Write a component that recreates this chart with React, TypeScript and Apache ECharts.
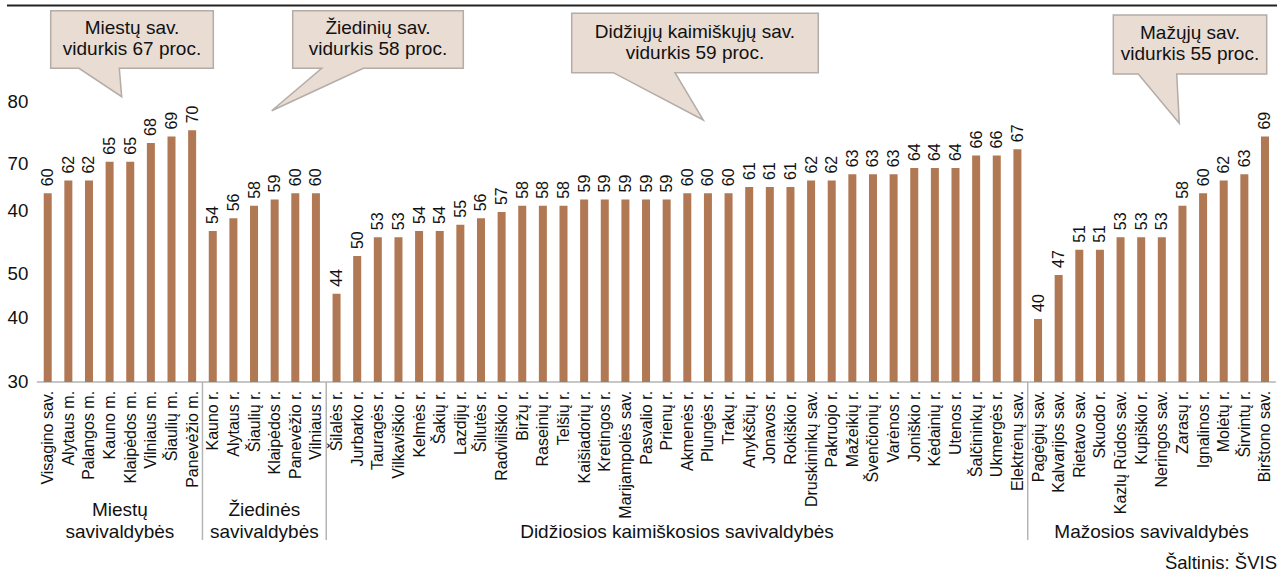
import React, { useEffect, useRef } from 'react';
import * as echarts from 'echarts';

const categories = [
  'Visagino sav.', 'Alytaus m.', 'Palangos m.', 'Kauno m.', 'Klaipėdos m.', 'Vilniaus m.', 'Šiaulių m.', 'Panevėžio m.',
  'Kauno r.', 'Alytaus r.', 'Šiaulių r.', 'Klaipėdos r.', 'Panevėžio r.', 'Vilniaus r.',
  'Šilalės r.', 'Jurbarko r.', 'Tauragės r.', 'Vilkaviškio r.', 'Kelmės r.', 'Šakių r.', 'Lazdijų r.', 'Šilutės r.',
  'Radviliškio r.', 'Biržų r.', 'Raseinių r.', 'Telšių r.', 'Kaišiadorių r.', 'Kretingos r.', 'Marijampolės sav.',
  'Pasvalio r.', 'Prienų r.', 'Akmenės r.', 'Plungės r.', 'Trakų r.', 'Anykščių r.', 'Jonavos r.', 'Rokiškio r.',
  'Druskininkų sav.', 'Pakruojo r.', 'Mažeikių r.', 'Švenčionių r.', 'Varėnos r.', 'Joniškio r.', 'Kėdainių r.',
  'Utenos r.', 'Šalčininkų r.', 'Ukmergės r.', 'Elektrėnų sav.',
  'Pagėgių sav.', 'Kalvarijos sav.', 'Rietavo sav.', 'Skuodo r.', 'Kazlų Rūdos sav.', 'Kupiškio r.', 'Neringos sav.',
  'Zarasų r.', 'Ignalinos r.', 'Molėtų r.', 'Širvintų r.', 'Birštono sav.',
];

const values = [
  60, 62, 62, 65, 65, 68, 69, 70,
  54, 56, 58, 59, 60, 60,
  44, 50, 53, 53, 54, 54, 55, 56, 57, 58, 58, 58, 59, 59, 59, 59, 59, 60, 60, 60, 61, 61, 61, 62, 62, 63, 63, 63, 64, 64, 64, 66, 66, 67,
  40, 47, 51, 51, 53, 53, 53, 58, 60, 62, 63, 69,
];

const groupNames = ['Miestų\nsavivaldybės', 'Žiedinės\nsavivaldybės', 'Didžiosios kaimiškosios savivaldybės', 'Mažosios savivaldybės'];
const groupSizes = [8, 6, 34, 12];

const yTickValues = [30, 40.2, 47.3, 57.3, 64.8, 74.5];
const yTickLabels = ['30', '40', '50', '40', '70', '80'];

const calloutTexts = [
  'Miestų sav.\nvidurkis 67 proc.',
  'Žiedinių sav.\nvidurkis 58 proc.',
  'Didžiųjų kaimiškųjų sav.\nvidurkis 59 proc.',
  'Mažųjų sav.\nvidurkis 55 proc.',
];

const sourceText = 'Šaltinis: ŠVIS';

// layout of callout boxes: [left, top, right, bottom], pointer base [x1, x2], pointer tip [x, y]
const calloutLayout = [
  { r: [50.7, 10.7, 213.3, 68.3], b: [79, 119.3], t: [121.7, 96.7] },
  { r: [292.7, 10.7, 463.3, 68.3], b: [321.7, 363.3], t: [271.7, 110.7] },
  { r: [571.7, 13.3, 818.3, 72.7], b: [613.3, 675], t: [703.3, 120] },
  { r: [1113.3, 15, 1266.7, 74], b: [1138.3, 1176.7], t: [1179.3, 123.3] },
];

const FONT = '"Liberation Sans", Arial, Helvetica, sans-serif';
const TEXT = '#111';

export default function App() {
  const ref = useRef<HTMLDivElement>(null);

  useEffect(() => {
    document.body.style.margin = '0';
    const chart = echarts.init(ref.current!, null, { renderer: 'svg' });
    chart.setOption({
      animation: false,
      textStyle: { fontFamily: FONT, color: TEXT },
      grid: { left: 37.4, right: 7.7, top: 67.4, bottom: 191.1, containLabel: false, outerBoundsMode: 'none' },
      xAxis: {
        type: 'category',
        data: categories,
        axisLine: { lineStyle: { color: '#b4b4b4', width: 1.5 } },
        axisTick: { show: false },
        axisLabel: { rotate: 90, interval: 0, margin: 9, fontSize: 16, color: TEXT, fontFamily: FONT },
      },
      yAxis: {
        type: 'value',
        min: 30,
        max: 80,
        splitLine: { show: false },
        axisLine: { show: false },
        axisTick: { show: false },
        axisLabel: {
          customValues: yTickValues,
          formatter: (v: number) => {
            let best = 0;
            yTickValues.forEach((t, i) => {
              if (Math.abs(t - v) < Math.abs(yTickValues[best] - v)) best = i;
            });
            return yTickLabels[best];
          },
          fontSize: 18.7,
          margin: 9,
          color: TEXT,
          fontFamily: FONT,
        },
      },
      series: [
        {
          type: 'bar',
          data: values,
          barWidth: 8,
          itemStyle: { color: '#b07853' },
          label: {
            show: true,
            position: 'top',
            rotate: 90,
            align: 'left',
            verticalAlign: 'middle',
            distance: 7,
            fontSize: 16,
            color: TEXT,
            fontFamily: FONT,
          },
        },
      ],
    });

    const px = (i: number) => chart.convertToPixel({ xAxisIndex: 0 }, i) as number;
    const band = px(1) - px(0);
    const axisY = chart.convertToPixel({ yAxisIndex: 0 }, 30) as number;

    const graphics: any[] = [];
    graphics.push({
      type: 'line',
      shape: { x1: 7, y1: 5.5, x2: 1277, y2: 5.5 },
      style: { stroke: '#222', lineWidth: 2 },
    });

    let start = 0;
    groupSizes.forEach((size, gi) => {
      const end = start + size - 1;
      if (gi > 0) {
        const x = px(start) - band / 2;
        graphics.push({
          type: 'line',
          shape: { x1: x, y1: axisY, x2: x, y2: 540 },
          style: { stroke: '#b4b4b4', lineWidth: 1.5 },
        });
      }
      graphics.push({
        type: 'text',
        x: (px(start) + px(end)) / 2,
        y: 542,
        style: {
          text: groupNames[gi],
          fill: TEXT,
          fontSize: 19,
          fontFamily: FONT,
          lineHeight: 21.7,
          align: 'center',
          verticalAlign: 'bottom',
        },
      });
      start += size;
    });

    calloutLayout.forEach((c, i) => {
      const [l, t, r, b] = c.r;
      graphics.push({
        type: 'polygon',
        shape: {
          points: [
            [l, t], [r, t], [r, b], [c.b[1], b], [c.t[0], c.t[1]], [c.b[0], b], [l, b],
          ],
        },
        style: { fill: '#e9dcd3', stroke: '#b3aca7', lineWidth: 1.5 },
      });
      graphics.push({
        type: 'text',
        x: (l + r) / 2,
        y: (t + b) / 2 - 1.5,
        style: {
          text: calloutTexts[i],
          fill: TEXT,
          fontSize: 19,
          fontFamily: FONT,
          lineHeight: 21,
          align: 'center',
          verticalAlign: 'middle',
        },
      });
    });

    graphics.push({
      type: 'text',
      x: 1277,
      y: 562,
      style: {
        text: sourceText,
        fill: TEXT,
        fontSize: 18.5,
        fontFamily: FONT,
        align: 'right',
        verticalAlign: 'middle',
      },
    });

    chart.setOption({ graphic: graphics });

    return () => chart.dispose();
  }, []);

  return <div ref={ref} style={{ width: 1283, height: 573 }} />;
}
